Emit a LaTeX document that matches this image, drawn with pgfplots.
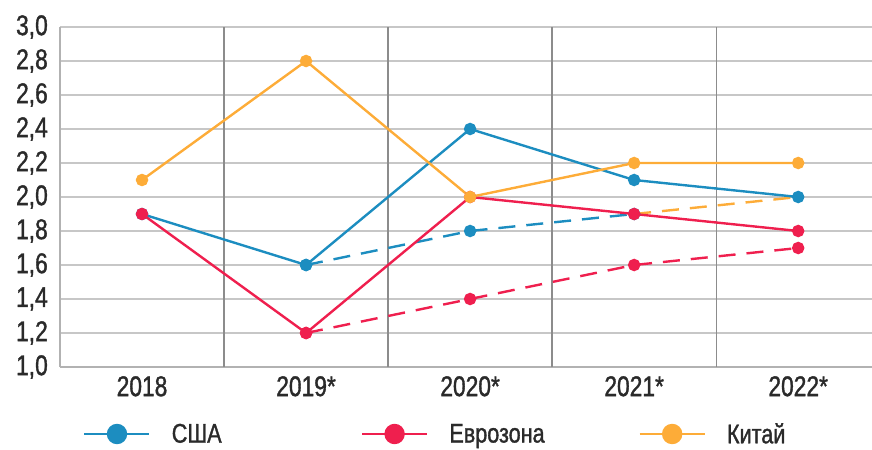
\documentclass[border=0pt]{standalone}
\usepackage{fontspec}
\setmainfont{Liberation Sans}[FakeStretch=0.8, FakeBold=1.2]
\usepackage{pgfplots}
\pgfplotsset{compat=1.18}

\definecolor{usblue}{HTML}{1C8DC0}
\definecolor{eured}{HTML}{EF1F4E}
\definecolor{cnorange}{HTML}{FDAC38}
\definecolor{labelgray}{HTML}{2A2A2A}

\begin{document}
\begin{tikzpicture}
\begin{axis}[
  scale only axis,
  width=812pt, height=340pt,
  xmin=-0.5, xmax=4.45,
  ymin=1.0, ymax=3.0,
  xtick={0,1,2,3,4},
  xticklabels={2018,2019*,2020*,2021*,2022*},
  ytick={1.0,1.2,...,3.01},
  major tick length=0pt,
  axis x line*=bottom, axis y line*=left,
  axis line style={black!30, line width=1.4pt},
  ymajorgrids,
  major grid style={black!22, line width=1.4pt},
  extra x ticks={0.5,1.5,2.5,3.5},
  extra x tick labels={},
  extra x tick style={xmajorgrids=true, ymajorgrids=false,
    major grid style={black!45, line width=1.3pt}},
  tick label style={font=\fontsize{28.5}{30}\selectfont, text=labelgray},
  /pgf/number format/.cd, use comma, fixed, fixed zerofill, precision=1,
    assume math mode=true, /pgfplots/.cd,
  yticklabel style={anchor=east, inner sep=0pt, xshift=-12pt},
  xticklabel style={anchor=north, inner sep=0pt, yshift=-9pt},
  every axis plot/.append style={line width=2.4pt},
  legend columns=3,
  legend style={draw=none, fill=none, at={(0,0)}, anchor=west,
    xshift=23pt, yshift=-67pt, inner sep=0pt, column sep=0pt,
    nodes={inner sep=0pt}, font=\fontsize{27}{29}\selectfont, text=labelgray},
  legend image code/.code={
    \draw[#1, mark=none, line width=2.6pt] (0pt,0pt) -- (65pt,0pt);
    \fill[#1] (32.5pt,0pt) circle (9pt);
  },
]
% forecast revisions (dashed)
\addplot[usblue, dash pattern=on 17pt off 11pt, mark=*, mark size=5pt,
  mark options={solid}, forget plot]
  coordinates {(1,1.6) (2,1.8) (3,1.9)};
\addplot[cnorange, dash pattern=on 17pt off 11pt, forget plot]
  coordinates {(3,1.9) (4,2.0)};
\addplot[eured, dash pattern=on 17pt off 11pt, mark=*, mark size=5pt,
  mark options={solid}, forget plot]
  coordinates {(1,1.2) (2,1.4) (3,1.6) (4,1.7)};
% main series
\addplot[usblue, mark=*, mark size=5pt]
  coordinates {(0,1.9) (1,1.6) (2,2.4) (3,2.1) (4,2.0)};
\addlegendentry{\makebox[210pt][l]{\hspace{21pt}США}}
\addplot[eured, mark=*, mark size=5pt]
  coordinates {(0,1.9) (1,1.2) (2,2.0) (3,1.9) (4,1.8)};
\addlegendentry{\makebox[210pt][l]{\hspace{21pt}Еврозона}}
\addplot[cnorange, mark=*, mark size=5pt]
  coordinates {(0,2.1) (1,2.8) (2,2.0) (3,2.2) (4,2.2)};
\addlegendentry{\makebox[100pt][l]{\hspace{21pt}Китай}}
\end{axis}
\pgfresetboundingbox
\path[use as bounding box] ([xshift=-60pt,yshift=-83pt]current axis.south west)
  rectangle ([yshift=27pt]current axis.north east);
\end{tikzpicture}
\end{document}
